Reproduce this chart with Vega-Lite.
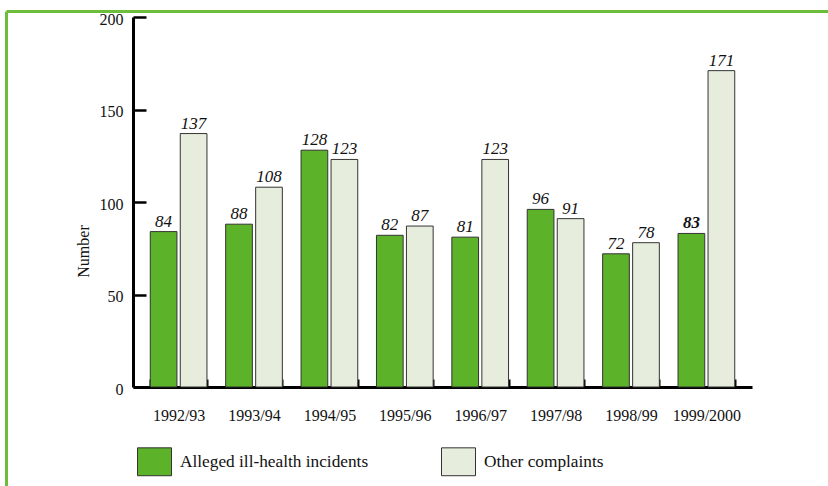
{
  "$schema": "https://vega.github.io/schema/vega-lite/v6.json",
  "autosize": {"type": "none"},
  "width": 619,
  "height": 370,
  "padding": {"left": 133, "top": 17, "right": 76, "bottom": 99},
  "background": "white",
  "config": {
    "view": {"stroke": null},
    "font": "Liberation Serif",
    "axis": {"labelFont": "Liberation Serif", "titleFont": "Liberation Serif", "labelColor": "#111", "titleColor": "#111", "grid": false}
  },
  "data": {
    "values": [
      {"period": "1992/93", "series": "Alleged ill-health incidents", "value": 84},
      {"period": "1992/93", "series": "Other complaints", "value": 137},
      {"period": "1993/94", "series": "Alleged ill-health incidents", "value": 88},
      {"period": "1993/94", "series": "Other complaints", "value": 108},
      {"period": "1994/95", "series": "Alleged ill-health incidents", "value": 128},
      {"period": "1994/95", "series": "Other complaints", "value": 123},
      {"period": "1995/96", "series": "Alleged ill-health incidents", "value": 82},
      {"period": "1995/96", "series": "Other complaints", "value": 87},
      {"period": "1996/97", "series": "Alleged ill-health incidents", "value": 81},
      {"period": "1996/97", "series": "Other complaints", "value": 123},
      {"period": "1997/98", "series": "Alleged ill-health incidents", "value": 96},
      {"period": "1997/98", "series": "Other complaints", "value": 91},
      {"period": "1998/99", "series": "Alleged ill-health incidents", "value": 72},
      {"period": "1998/99", "series": "Other complaints", "value": 78},
      {"period": "1999/2000", "series": "Alleged ill-health incidents", "value": 83},
      {"period": "1999/2000", "series": "Other complaints", "value": 171}
    ]
  },
  "layer": [
    {
      "description": "Green page frame drawn by top and left axis domains",
      "mark": {"type": "point", "opacity": 0},
      "encoding": {
        "x": {
          "field": "value", "type": "quantitative",
          "scale": {"range": [-127, 700], "zero": true},
          "axis": {"orient": "top", "offset": 6, "domainColor": "#6cbd3a", "domainWidth": 3, "ticks": false, "labels": false, "title": null}
        },
        "y": {
          "field": "value", "type": "quantitative",
          "scale": {"range": [475, -6], "zero": true},
          "axis": {"orient": "left", "offset": 127, "domainColor": "#6cbd3a", "domainWidth": 3, "ticks": false, "labels": false, "title": null}
        }
      }
    },
    {
      "layer": [
        {
          "mark": {"type": "bar", "stroke": "#333333", "strokeWidth": 1},
          "encoding": {
            "color": {
              "field": "series", "type": "nominal",
              "scale": {"domain": ["Alleged ill-health incidents", "Other complaints"], "range": ["#5cb229", "#e6eddc"]},
              "legend": {
                "orient": "none", "legendX": 4, "legendY": 427, "direction": "horizontal", "title": null,
                "padding": 0,
                "symbolType": "M-1,-0.82L1,-0.82L1,0.82L-1,0.82Z",
                "symbolSize": 1156,
                "symbolStrokeColor": "#333333", "symbolStrokeWidth": 1, "symbolOpacity": 1,
                "labelFont": "Liberation Serif", "labelFontSize": 17.3, "labelColor": "#111", "labelOffset": 8,
                "columnPadding": 70, "labelLimit": 400
              }
            }
          }
        },
        {
          "transform": [{"filter": "!(datum.period === '1999/2000' && datum.series === 'Alleged ill-health incidents')"}],
          "mark": {"type": "text", "font": "Liberation Serif", "fontStyle": "italic", "fontSize": 17, "baseline": "alphabetic", "dy": -5, "color": "#111"},
          "encoding": {"text": {"field": "value", "type": "quantitative"}}
        },
        {
          "transform": [{"filter": "datum.period === '1999/2000' && datum.series === 'Alleged ill-health incidents'"}],
          "mark": {"type": "text", "font": "Liberation Serif", "fontStyle": "italic", "fontWeight": "bold", "fontSize": 17, "baseline": "alphabetic", "dy": -5, "color": "#111"},
          "encoding": {"text": {"field": "value", "type": "quantitative"}}
        }
      ],
      "encoding": {
        "x": {
          "field": "period", "type": "nominal", "sort": null,
          "scale": {"paddingInner": 0.248, "paddingOuter": 0.229},
          "axis": {
            "orient": "bottom", "title": null, "labelAngle": 0, "labelFontSize": 16,
            "domainColor": "#000", "domainWidth": 3,
            "tickBand": "extent", "tickSize": -8, "tickWidth": 2, "tickColor": "#000",
            "labelPadding": 28
          }
        },
        "xOffset": {
          "field": "series", "type": "nominal",
          "sort": ["Alleged ill-health incidents", "Other complaints"],
          "scale": {"paddingInner": 0.11, "paddingOuter": 0}
        },
        "y": {
          "field": "value", "type": "quantitative",
          "scale": {"domain": [0, 200], "nice": false},
          "axis": {
            "orient": "left", "title": "Number", "titleFontSize": 16, "titleFontWeight": "normal",
            "titleX": -50, "titleY": 234, "titleAngle": -90, "titleAlign": "center", "titleBaseline": "middle",
            "values": [0, 50, 100, 150, 200], "labelFontSize": 16, "labelPadding": 23, "labelOffset": 2,
            "domainColor": "#000", "domainWidth": 3,
            "tickSize": -13, "tickWidth": 2.5, "tickColor": "#000"
          }
        }
      }
    }
  ],
  "resolve": {"scale": {"x": "independent", "y": "independent"}, "axis": {"x": "independent", "y": "independent"}}
}
